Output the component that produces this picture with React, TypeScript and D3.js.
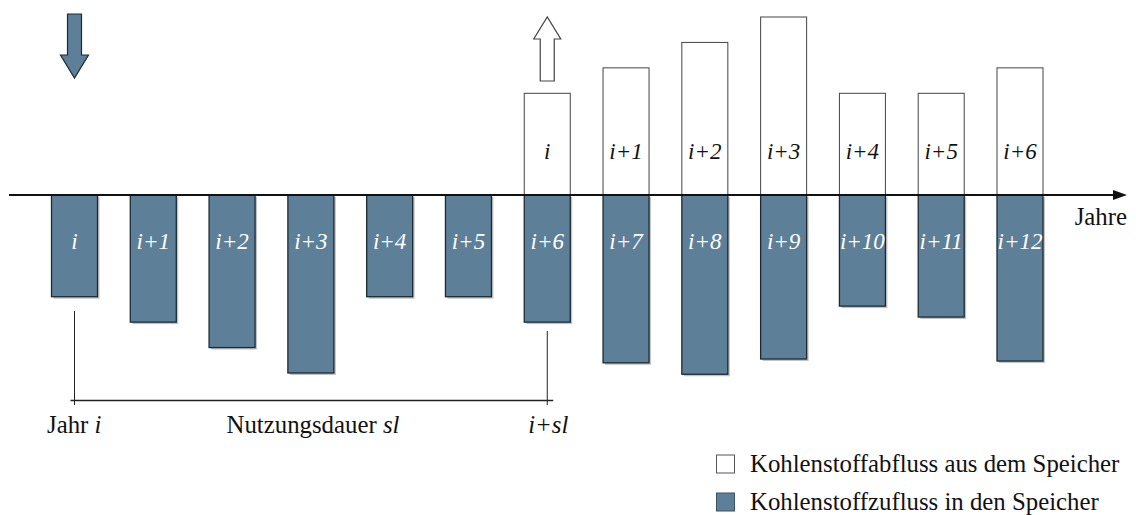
import * as d3 from 'd3';
import React, { useEffect, useRef } from 'react';

// Jahre (Index) und Werte aus dem Bild
const inflowLabels = ['i', 'i+1', 'i+2', 'i+3', 'i+4', 'i+5', 'i+6', 'i+7', 'i+8', 'i+9', 'i+10', 'i+11', 'i+12'];
const inflowValues = [4, 5, 6, 7, 4, 4, 5, 6.6, 7.05, 6.45, 4.37, 4.8, 6.53];
const outflowLabels = ['i', 'i+1', 'i+2', 'i+3', 'i+4', 'i+5', 'i+6'];
const outflowValues = [4, 5, 6, 7, 4, 4, 5];
const serviceLife = 6;
const legendLabels = ['Kohlenstoffabfluss aus dem Speicher', 'Kohlenstoffzufluss in den Speicher'];

const BLUE = '#5e7f98';
const DARK = '#1c2a34';
const FONT = "'Liberation Serif', 'DejaVu Serif', serif";
const FS = 24.8;

const App: React.FC = () => {
  const ref = useRef<SVGSVGElement | null>(null);

  useEffect(() => {
    if (!ref.current) return;
    const svg = d3.select(ref.current);
    svg.selectAll('*').remove();

    const x = d3.scaleLinear().domain([0, 12]).range([74.5, 1020]);
    const y = d3.scaleLinear().domain([-7, 7]).range([373, 17]);
    const bw = 46;
    const y0 = y(0);

    // Schatten
    svg
      .selectAll('rect.shadow')
      .data(inflowValues)
      .enter()
      .append('rect')
      .attr('x', (_, i) => x(i) - bw / 2 + 2)
      .attr('y', y0 + 2)
      .attr('width', bw)
      .attr('height', (d) => y(-d) - y0)
      .attr('fill', '#c4c4c4');

    // Zufluss (blau, nach unten)
    svg
      .selectAll('rect.in')
      .data(inflowValues)
      .enter()
      .append('rect')
      .attr('x', (_, i) => x(i) - bw / 2)
      .attr('y', y0)
      .attr('width', bw)
      .attr('height', (d) => y(-d) - y0)
      .attr('fill', BLUE)
      .attr('stroke', DARK)
      .attr('stroke-width', 1.3);

    // Abfluss (weiß, nach oben)
    svg
      .selectAll('rect.out')
      .data(outflowValues)
      .enter()
      .append('rect')
      .attr('x', (_, i) => x(i + serviceLife) - bw / 2)
      .attr('y', (d) => y(d))
      .attr('width', bw)
      .attr('height', (d) => y0 - y(d))
      .attr('fill', '#fff')
      .attr('stroke', '#444')
      .attr('stroke-width', 1);

    // Beschriftungen in den Balken
    svg
      .selectAll('text.in')
      .data(inflowLabels)
      .enter()
      .append('text')
      .attr('x', (_, i) => x(i))
      .attr('y', 249)
      .attr('text-anchor', 'middle')
      .style('font-family', FONT)
      .style('font-style', 'italic')
      .style('font-size', '23px')
      .attr('fill', '#fff')
      .text((d) => d);

    svg
      .selectAll('text.out')
      .data(outflowLabels)
      .enter()
      .append('text')
      .attr('x', (_, i) => x(i + serviceLife))
      .attr('y', 159)
      .attr('text-anchor', 'middle')
      .style('font-family', FONT)
      .style('font-style', 'italic')
      .style('font-size', '23px')
      .attr('fill', '#111')
      .text((d) => d);

    // Zeitachse mit Pfeil
    svg
      .append('line')
      .attr('x1', 9)
      .attr('x2', 1116)
      .attr('y1', y0)
      .attr('y2', y0)
      .attr('stroke', '#111')
      .attr('stroke-width', 2);
    svg
      .append('path')
      .attr('d', `M1113,${y0 - 5}L1127,${y0}L1113,${y0 + 5}Z`)
      .attr('fill', '#111');
    svg
      .append('text')
      .attr('x', 1127)
      .attr('y', 225)
      .attr('text-anchor', 'end')
      .style('font-family', FONT)
      .style('font-size', `${FS}px`)
      .attr('fill', '#111')
      .text('Jahre');

    // Pfeile oben
    const cx0 = x(0);
    svg
      .append('path')
      .attr(
        'd',
        `M${cx0 - 7},14H${cx0 + 7}V55H${cx0 + 14}L${cx0},78L${cx0 - 14},55H${cx0 - 7}Z`
      )
      .attr('fill', BLUE)
      .attr('stroke', DARK)
      .attr('stroke-width', 1.2);
    const cx6 = x(serviceLife);
    svg
      .append('path')
      .attr(
        'd',
        `M${cx6 - 7},81H${cx6 + 7}V39H${cx6 + 13.5}L${cx6},17L${cx6 - 13.5},39H${cx6 - 7}Z`
      )
      .attr('fill', '#fff')
      .attr('stroke', '#444')
      .attr('stroke-width', 1.2);

    // Klammer Nutzungsdauer
    const br = svg.append('g').attr('stroke', '#222').attr('stroke-width', 1);
    br.append('line').attr('x1', cx0).attr('x2', cx0).attr('y1', 311).attr('y2', 405);
    br.append('line').attr('x1', cx6).attr('x2', cx6).attr('y1', 331).attr('y2', 405);
    br.append('line').attr('x1', cx0 - 4).attr('x2', cx6 + 6).attr('y1', 400.5).attr('y2', 400.5).attr('stroke-width', 1.3);

    const lab = (tx: number, anchor: string, parts: [string, boolean][]) => {
      const t = svg
        .append('text')
        .attr('x', tx)
        .attr('y', 433)
        .attr('text-anchor', anchor)
        .style('font-family', FONT)
        .style('font-size', `${FS}px`)
        .attr('fill', '#111');
      parts.forEach(([s, it]) => {
        t.append('tspan').style('font-style', it ? 'italic' : 'normal').text(s);
      });
    };
    lab(47, 'start', [['Jahr ', false], ['i', true]]);
    lab(313, 'middle', [['Nutzungsdauer ', false], ['sl', true]]);
    lab(cx6 + 1, 'middle', [['i+sl', true]]);

    // Legende
    const lg = svg.append('g');
    legendLabels.forEach((l, k) => {
      const top = k === 0 ? 455 : 493;
      lg.append('rect')
        .attr('x', 716.5)
        .attr('y', top)
        .attr('width', 18)
        .attr('height', 18)
        .attr('fill', k === 0 ? '#fff' : BLUE)
        .attr('stroke', k === 0 ? '#555' : '#3c5366')
        .attr('stroke-width', 1);
      lg.append('text')
        .attr('x', 750)
        .attr('y', top + 17)
        .style('font-family', FONT)
        .style('font-size', `${FS}px`)
        .attr('fill', '#111')
        .text(l);
    });
  }, []);

  return (
    <svg
      ref={ref}
      width={1136}
      height={515}
      style={{ position: 'absolute', left: 0, top: 0, background: '#fff' }}
    />
  );
};

export default App;
